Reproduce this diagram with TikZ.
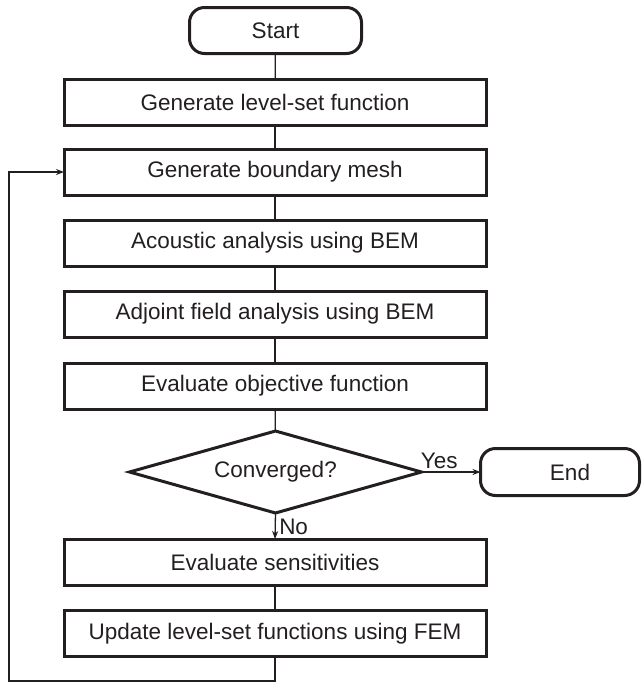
\documentclass[tikz,border=0pt]{standalone}
\usepackage{fontspec}
\setmainfont{Liberation Sans}
\usetikzlibrary{shapes.geometric,arrows.meta}
\definecolor{ink}{HTML}{231F20}
\tikzset{
  every node/.style={font=\fontsize{22.5}{26}\selectfont, text=ink, outer sep=0pt, inner sep=0pt},
  procbox/.style={draw=ink, line width=3pt, rectangle, minimum width=422pt, minimum height=46pt},
  termbox/.style={draw=ink, line width=3pt, rectangle, rounded corners=15pt, minimum height=46pt},
  decbox/.style={draw=ink, line width=3pt, diamond, aspect=3.5, minimum width=292pt, minimum height=82pt},
  link/.style={draw=ink, line width=1.3pt},
  arrowlink/.style={link, -{Stealth[length=8pt,width=6pt]}},
  lbl/.style={font=\fontsize{22.5}{26}\selectfont}
}
\begin{document}
\begin{tikzpicture}[x=1pt,y=-1pt]
\useasboundingbox (0,0) rectangle (643,683);
\node[termbox, minimum width=172pt] (start) at (275.5,30.5) {Start};
\node[procbox] (b1) at (275,102) {Generate level-set function};
\node[procbox] (b2) at (275,172) {Generate boundary mesh};
\node[procbox] (b3) at (275,243) {Acoustic analysis using BEM};
\node[procbox] (b4) at (275,314) {Adjoint field analysis using BEM};
\node[procbox] (b5) at (275,386) {Evaluate objective function};
\node[decbox] (dec) at (275.5,472) {Converged?};
\node[termbox, minimum width=159pt, minimum height=47pt] (end) at (560,472) {\hspace*{20pt}End};
\node[procbox] (b6) at (275,562) {Evaluate sensitivities};
\node[procbox] (b7) at (275,633.5) {Update level-set functions using FEM};
\coordinate (c1) at (275,681);
\coordinate (c2) at (9,681);
\coordinate (c3) at (9,172);
\draw[link] (start) -- (b1);
\draw[link] (b1) -- (b2);
\draw[link] (b2) -- (b3);
\draw[link] (b3) -- (b4);
\draw[link] (b4) -- (b5);
\draw[link] (b5) -- (dec);
\draw[arrowlink] (dec.east) -- node[lbl, above, pos=0.3, yshift=3pt] (yes) {Yes} (end.west);
\draw[arrowlink] (dec.south) -- node[lbl, right, xshift=4pt, yshift=-1pt] (no) {No} (b6.north);
\draw[link] (b6) -- (b7);
\draw[arrowlink] (b7.south) -- (c1) -- (c2) -- (c3) -- (b2.west);
\end{tikzpicture}
\end{document}
